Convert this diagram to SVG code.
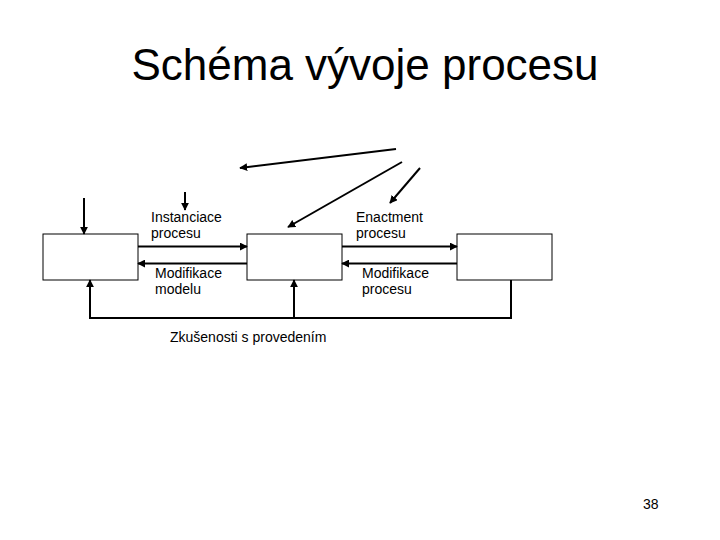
<svg xmlns="http://www.w3.org/2000/svg" width="720" height="540" viewBox="0 0 720 540">
<style>
.box{fill:#fff;stroke:#000;stroke-width:1}
.ln{fill:none;stroke:#000;stroke-width:2}
.ar{fill:none;stroke:#000;stroke-width:2;marker-end:url(#ah)}
.t{font-family:"Liberation Sans",Arial,sans-serif;font-size:14px;fill:#000}
.title{font-family:"Liberation Sans",Arial,sans-serif;font-size:44px;fill:#000;text-anchor:middle}
</style>
<defs>
<marker id="ah" viewBox="0 0 10 10" refX="9" refY="5" markerWidth="4" markerHeight="4" orient="auto" markerUnits="strokeWidth">
<path d="M0,0 L10,5 L0,10 z" fill="#000"/>
</marker>
</defs>
<rect width="720" height="540" fill="#fff"/>
<text class="title" x="365" y="80">Schéma vývoje procesu</text>
<g id="box1"><rect class="box" x="43" y="234" width="95" height="46"/></g>
<g id="box2"><rect class="box" x="247" y="234" width="95" height="46"/></g>
<g id="box3"><rect class="box" x="457" y="234" width="95" height="46"/></g>
<g id="connectors">
<line class="ar" x1="84" y1="198" x2="84" y2="234"/>
<line class="ar" x1="185" y1="192" x2="185" y2="210"/>
<line class="ar" x1="138" y1="246.5" x2="247" y2="246.5"/>
<line class="ar" x1="247" y1="263.5" x2="138" y2="263.5"/>
<line class="ar" x1="342" y1="246.5" x2="457" y2="246.5"/>
<line class="ar" x1="457" y1="263.5" x2="342" y2="263.5"/>
<line class="ar" x1="396" y1="149" x2="240" y2="168"/>
<line class="ar" x1="402" y1="162" x2="288" y2="227"/>
<line class="ar" x1="420" y1="168" x2="390" y2="203"/>
<polyline class="ln" points="511,280 511,318 90,318"/>
<line class="ar" x1="90" y1="319" x2="90" y2="280"/>
<line class="ar" x1="294" y1="318" x2="294" y2="280"/>
</g>
<g id="labels">
<text class="t" x="151" y="222">Instanciace</text>
<text class="t" x="151" y="238">procesu</text>
<text class="t" x="155" y="278">Modifikace</text>
<text class="t" x="155" y="294">modelu</text>
<text class="t" x="356" y="222">Enactment</text>
<text class="t" x="356" y="238">procesu</text>
<text class="t" x="362" y="278">Modifikace</text>
<text class="t" x="362" y="294">procesu</text>
<text class="t" x="170" y="342">Zkušenosti s provedením</text>
<text class="t" x="643" y="509">38</text>
</g>
</svg>
